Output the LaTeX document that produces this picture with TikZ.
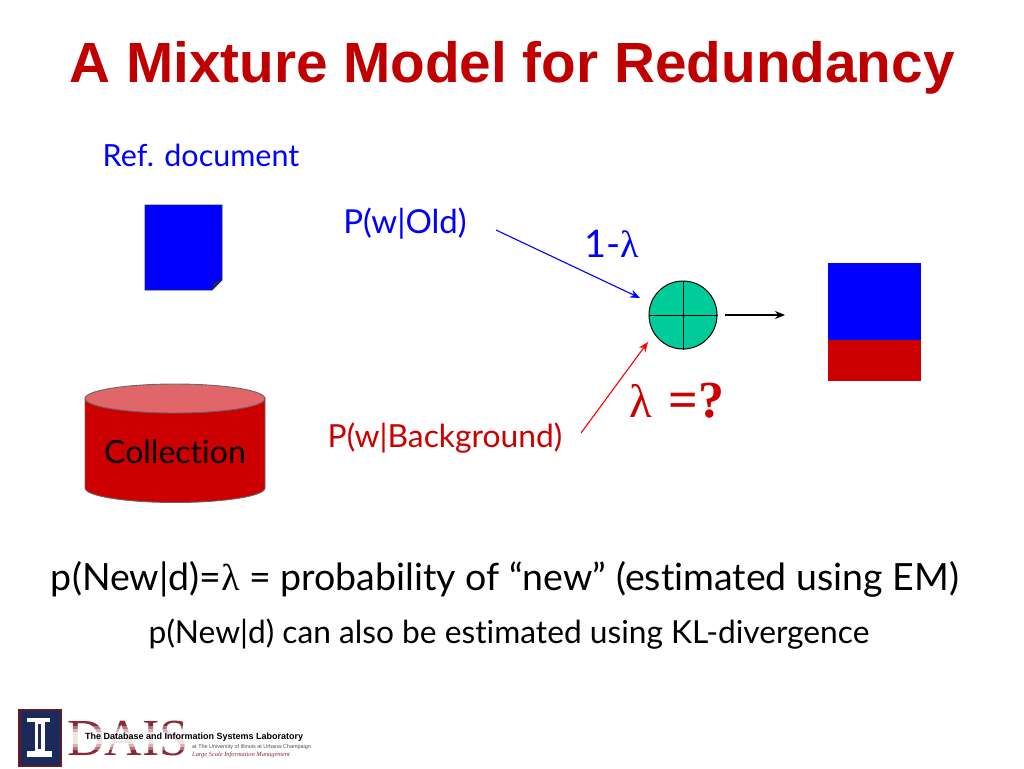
\documentclass[tikz,border=0pt]{standalone}
\usepackage{fontspec}
\setmainfont[Ligatures={NoCommon}]{Lato}
\newfontfamily\arialf{Liberation Sans}
\newfontfamily\timesf{Liberation Serif}
\usetikzlibrary{arrows.meta}
\definecolor{dred}{HTML}{CC0000}
\definecolor{ttl}{HTML}{C00000}
\definecolor{pure}{HTML}{0000FF}
\definecolor{teal1}{HTML}{00CC99}
\definecolor{topc}{HTML}{E0666A}
\definecolor{navy1}{HTML}{1A2A5A}
\definecolor{maroon1}{HTML}{8A2A36}
\tikzset{
 x=1pt,y=-1pt,
 lbl/.style={inner sep=0pt,anchor=center,align=center},
 arrowline/.style={-{Stealth[length=10pt,width=8pt]},line width=1.1pt},
}
\newcommand{\sz}[1]{\fontsize{#1}{#1}\selectfont}
\newcommand{\lam}{{\timesf λ}}
\begin{document}
\begin{tikzpicture}
\useasboundingbox (0,0) rectangle (1024,768);
\node[lbl,text=ttl] (title) at (512,68) {\arialf\bfseries\sz{56.7}A Mixture Model for Redundancy};
\node[lbl,text=pure] (ref) at (201,155) {\sz{30.5}Ref. document};
% document
\draw[fill=pure,draw=navy1,line width=0.7pt] (145,205) -- (222,205) -- (222,280) -- (212,290) -- (145,290) -- cycle;
\fill[navy1] (222,280) -- (212,290) -- (214,282) -- cycle;
% cylinder
\draw[fill=dred,draw=gray!80!black,line width=0.9pt] (85,398) -- (85,488) arc[start angle=180,end angle=0,x radius=90,y radius=14.5] -- (265,398) -- cycle;
\draw[fill=topc,draw=gray!80!black,line width=0.9pt] (175,398.5) ellipse[x radius=90,y radius=14.5];
\node[lbl] (coll) at (175,452) {\sz{32}Collection};
\node[lbl,text=pure] (old) at (405,224) {\sz{33}P(w|Old)};
\node[lbl,text=dred] (bg) at (445,438) {\sz{31.8}P(w|Background)};
\node[lbl,text=pure] (one) at (612,244) {\sz{38}1-\lam};
\node[lbl,text=dred] (lq) at (677,401) {\timesf\sz{47}λ\,\bfseries\sz{52}\,=?};
% mixer
\node[circle,draw=black,fill=teal1,line width=1pt,minimum size=68pt,inner sep=0pt] (mix) at (683,315) {};
\draw[line width=1pt] (mix.north) -- (mix.south) (mix.west) -- (mix.east);
% result
\fill[pure] (828,263) rectangle (921,340);
\fill[dred] (828,340) rectangle (921,381);
\coordinate (a1) at (496,230); \coordinate (a2) at (640,298);
\coordinate (b1) at (581,433); \coordinate (b2) at (648,342);
\coordinate (c1) at (725,315); \coordinate (c2) at (785,315);
\draw[arrowline,pure] (a1) -- (a2);
\draw[arrowline,red] (b1) -- (b2);
\draw[arrowline,black] (c1) -- (c2);
\node[lbl] (f1) at (505,579) {\sz{37.5}p(New|d)=\lam{} = probability of “new” (estimated using EM)};
\node[lbl] (f2) at (509,634) {\sz{31.7}p(New|d) can also be estimated using KL-divergence};
% logo
\fill[maroon1!70!black] (18,709) rectangle (62,767);
\fill[navy1] (20.5,711) rectangle (59.5,764.5);
\fill[white] (27,718) rectangle (50,722);
\fill[white] (35,722) rectangle (45,751);
\fill[navy1] (38,724) rectangle (41,749);
\fill[white] (27,751) rectangle (52,757);
\node[lbl,anchor=west,text=maroon1] (dais) at (67,739) {\timesf\sz{52}DAIS};
\fill[white,opacity=0.35] (64,726) rectangle (190,750);
\fill[white,opacity=0.45] (64,729) rectangle (190,747);
\fill[white,opacity=0.65] (64,732) rectangle (190,744);
\node[lbl,anchor=west] (l1) at (85,737.5) {\arialf\bfseries\sz{9}The Database and Information Systems Laboratory};
\node[lbl,anchor=west,text=black!70] (l2) at (192,747) {\arialf\sz{5.45}at The University of Illinois at Urbana-Champaign};
\node[lbl,anchor=west,text=maroon1] (l3) at (192,755) {\timesf\itshape\sz{6.4}Large Scale Information Management};
\end{tikzpicture}
\end{document}
